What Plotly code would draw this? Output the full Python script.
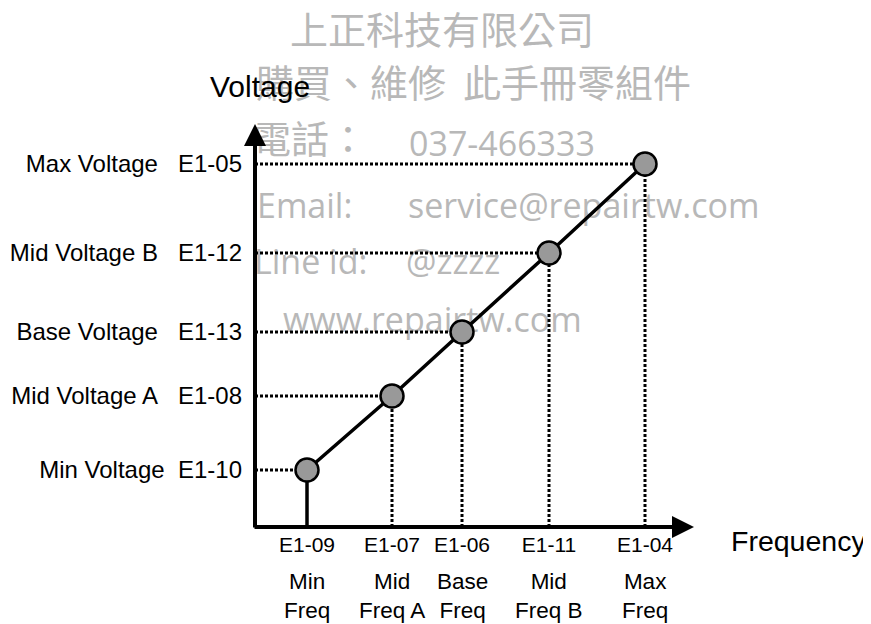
import plotly.graph_objects as go

# ---------------- data ----------------
freq_codes = ["E1-09", "E1-07", "E1-06", "E1-11", "E1-04"]
freq_names = ["Min<br>Freq", "Mid<br>Freq A", "Base<br>Freq", "Mid<br>Freq B", "Max<br>Freq"]
freq_values = [5.2, 13.7, 20.7, 29.4, 39.0]

volt_labels = [
    "Min Voltage\u00a0\u00a0E1-10",
    "Mid Voltage A\u00a0\u00a0\u00a0E1-08",
    "Base Voltage\u00a0\u00a0\u00a0E1-13",
    "Mid Voltage B\u00a0\u00a0\u00a0E1-12",
    "Max Voltage\u00a0\u00a0\u00a0E1-05",
]
volt_values = [5.7, 13.1, 19.5, 27.4, 36.3]

# watermark (decoration, drawn beneath the chart)
wm_text = ["上正科技有限公司", "購買、維修\u00a0\u00a0此手冊零組件", "電話：", "037-466333",
           "Email:", "service@repairtw.com", "Line id:", "@zzzz", "www.repairtw.com"]
wm_x = [3.5, 0.1, -0.2, 15.4, 0.2, 15.3, -0.1, 15.1, 2.8]
wm_y = [49.3, 44.0, 38.4, 38.0, 31.8, 31.8, 26.2, 26.2, 20.4]
wm_font = ["Noto Sans CJK TC"] * 3 + ["Open Sans"] * 6
wm_size = [38, 38, 38, 34, 34, 34, 34, 34, 34]

FONT = "Arial, Liberation Sans, sans-serif"
WM_COLOR = "rgb(184,184,184)"
DOT = "3px,2px"

fig = go.Figure()

# watermark as a text trace so that chart lines draw over it
fig.add_trace(go.Scatter(
    x=wm_x, y=wm_y, text=wm_text, mode="text", textposition="middle right",
    textfont=dict(family=wm_font, size=wm_size, color=WM_COLOR),
    cliponaxis=False, hoverinfo="skip", showlegend=False))

# dotted horizontal guides
hx, hy = [], []
for f, v in zip(freq_values, volt_values):
    hx += [0, f, None]
    hy += [v, v, None]
fig.add_trace(go.Scatter(x=hx, y=hy, mode="lines",
                         line=dict(color="black", width=3, dash=DOT),
                         hoverinfo="skip", showlegend=False))

# dotted vertical guides (all but the min frequency)
vx, vy = [], []
for f, v in zip(freq_values[1:], volt_values[1:]):
    vx += [f, f, None]
    vy += [0, v, None]
fig.add_trace(go.Scatter(x=vx, y=vy, mode="lines",
                         line=dict(color="black", width=3, dash=DOT),
                         hoverinfo="skip", showlegend=False))

# solid vertical at min frequency
fig.add_trace(go.Scatter(x=[freq_values[0], freq_values[0]], y=[0, volt_values[0]],
                         mode="lines", line=dict(color="black", width=3.5),
                         hoverinfo="skip", showlegend=False))

# V/f pattern line with points
fig.add_trace(go.Scatter(
    x=freq_values, y=volt_values, mode="lines+markers",
    line=dict(color="black", width=3.5),
    marker=dict(size=23, color="#999999", line=dict(color="black", width=2.5)),
    cliponaxis=False, hoverinfo="skip", showlegend=False))

annotations = [
    # x axis with arrow
    dict(x=43.9, y=0, ax=-0.2, ay=0, xref="x", yref="y", axref="x", ayref="y",
         text="", showarrow=True, arrowhead=2, arrowsize=1.1, arrowwidth=4,
         arrowcolor="black", standoff=0),
    # y axis with arrow
    dict(x=0, y=40.3, ax=0, ay=-0.2, xref="x", yref="y", axref="x", ayref="y",
         text="", showarrow=True, arrowhead=2, arrowsize=1.1, arrowwidth=4,
         arrowcolor="black", standoff=0),
    dict(x=0.5, y=44.1, xref="x", yref="y", text="Voltage", showarrow=False,
         xanchor="center", yanchor="middle", font=dict(family=FONT, size=30, color="black")),
    dict(x=1, y=0, xref="paper", yref="paper", xshift=34, yshift=-13.5, text="Frequency",
         showarrow=False, xanchor="left", yanchor="middle",
         font=dict(family=FONT, size=28.5, color="black")),
]
for f, name in zip(freq_values, freq_names):
    annotations.append(dict(x=f, y=0, xref="x", yref="y", yshift=-69, text=name,
                            showarrow=False, xanchor="center", yanchor="middle",
                            font=dict(family=FONT, size=22.5, color="black")))

# the page body adds an 8px offset, so the figure is 8px smaller than the window
fig.update_layout(
    width=863, height=616,
    margin=dict(l=237, r=176, t=9, b=97, pad=0),
    paper_bgcolor="white", plot_bgcolor="white",
    showlegend=False,
    annotations=annotations,
    xaxis=dict(range=[-1, 44], showgrid=False, zeroline=False, showline=False,
               tickvals=freq_values, ticktext=freq_codes, ticks="",
               ticklabelstandoff=3, tickfont=dict(family=FONT, size=21, color="black"),
               automargin=False, fixedrange=True),
    yaxis=dict(range=[0, 51], showgrid=False, zeroline=False, showline=False,
               tickvals=volt_values, ticktext=volt_labels, ticks="",
               ticklabelstandoff=2, tickfont=dict(family=FONT, size=24, color="black"),
               automargin=False, fixedrange=True),
)

fig.write_html("out.html")
